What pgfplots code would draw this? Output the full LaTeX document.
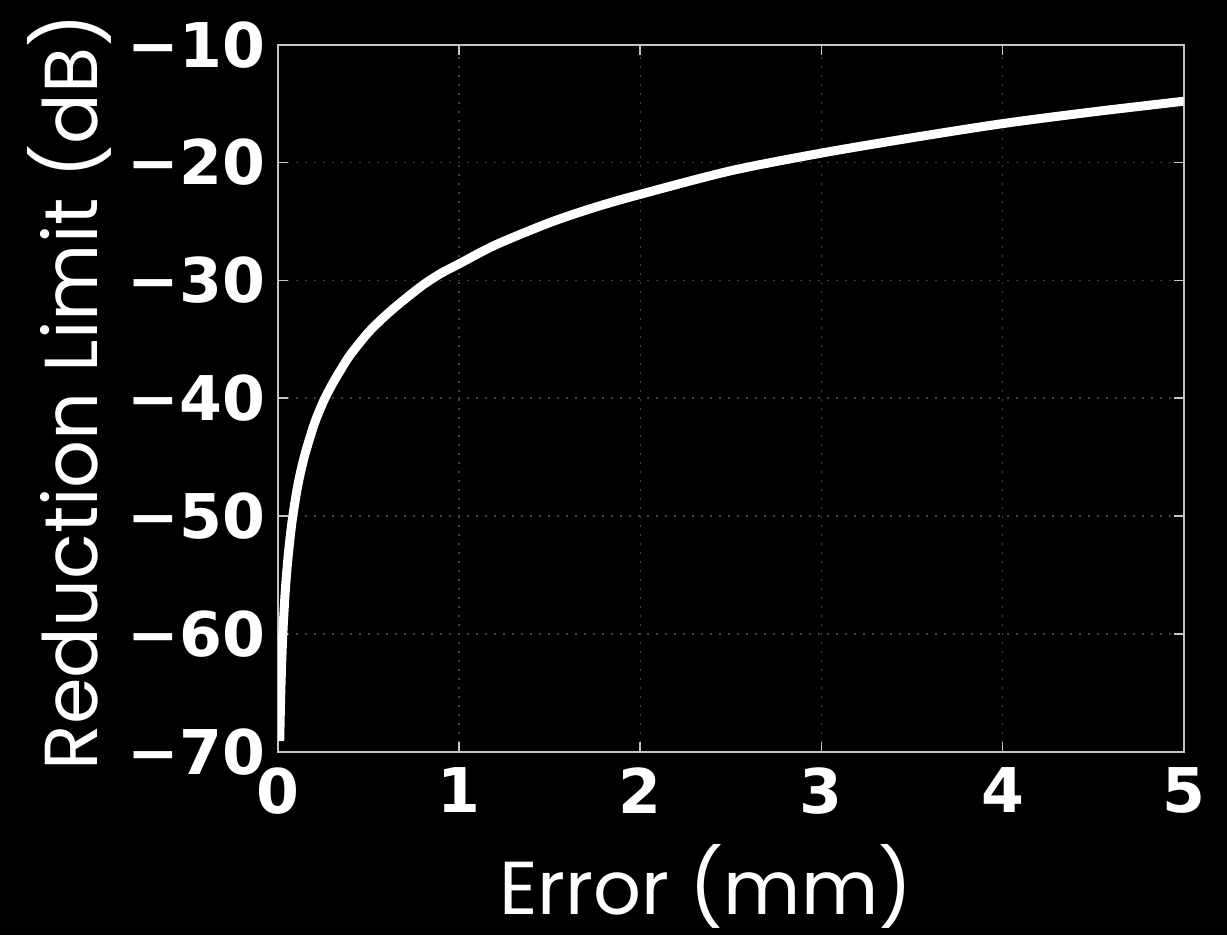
\documentclass[border=0pt]{standalone}
\usepackage{pgfplots}
\pgfplotsset{compat=1.18}
\usepackage{fontspec}
\newfontfamily\tickfont{DejaVu Sans}
\newfontfamily\labelfont{Poppins}

\definecolor{framegray}{HTML}{C4C4C4}
\definecolor{gridgray}{HTML}{404040}

\pgfplotstableread{
x       y
0.0095  -69.1
0.012   -67.2
0.015   -65.2
0.02    -62.6
0.025   -60.6
0.03    -59.0
0.04    -56.4
0.05    -54.4
0.06    -52.8
0.07    -51.4
0.08    -50.2
0.10    -48.2
0.12    -46.6
0.15    -44.7
0.20    -42.2
0.25    -40.3
0.30    -38.8
0.35    -37.5
0.40    -36.3
0.50    -34.4
0.60    -32.9
0.70    -31.6
0.80    -30.4
0.90    -29.4
1.00    -28.6
1.20    -27.0
1.50    -25.1
1.75    -23.8
2.00    -22.7
2.50    -20.7
3.00    -19.2
3.50    -17.9
4.00    -16.7
4.50    -15.7
5.00    -14.8
}\limitdata

\begin{document}
\begin{tikzpicture}
% black page behind the plot
\path[fill=black, use as bounding box] (-83.4pt,-55pt) rectangle (284.7pt,225.5pt);
\begin{axis}[
  scale only axis,
  width=271.7pt, height=212.1pt,
  xmin=0, xmax=5, ymin=-70, ymax=-10,
  xtick={0,1,2,3,4,5},
  xticklabels={0,1,2,3,4,5},
  ytick={-70,-60,-50,-40,-30,-20,-10},
  yticklabels={−70,−60,−50,−40,−30,−20,−10},
  tick align=inside, tick pos=both,
  major tick length=3pt,
  every tick/.style={draw=framegray, line width=0.5pt},
  axis line style={draw=framegray, line width=0.6pt},
  grid=major,
  major grid style={draw=gridgray, line width=0.45pt, dash pattern=on 0.6pt off 2.1pt},
  ticklabel style={font=\tickfont\bfseries\fontsize{18.5}{20}\selectfont, text=white, inner sep=0pt},
  xticklabel style={anchor=north, yshift=-4.6pt},
  yticklabel style={anchor=east, xshift=-3.6pt},
  xlabel={Error (mm)},
  ylabel={Reduction Limit (dB)},
  label style={font=\labelfont\fontsize{22.5}{24}\selectfont, text=white, inner sep=0pt},
  xlabel style={at={(axis description cs:0.4726,-0.231)}, anchor=base},
  ylabel style={at={(axis description cs:-0.1998,0.509)}, anchor=base, rotate=0},
]
\addplot[white, line width=2.7pt, smooth, tension=0.5] table[x=x, y=y] {\limitdata};
\end{axis}
\end{tikzpicture}
\end{document}
